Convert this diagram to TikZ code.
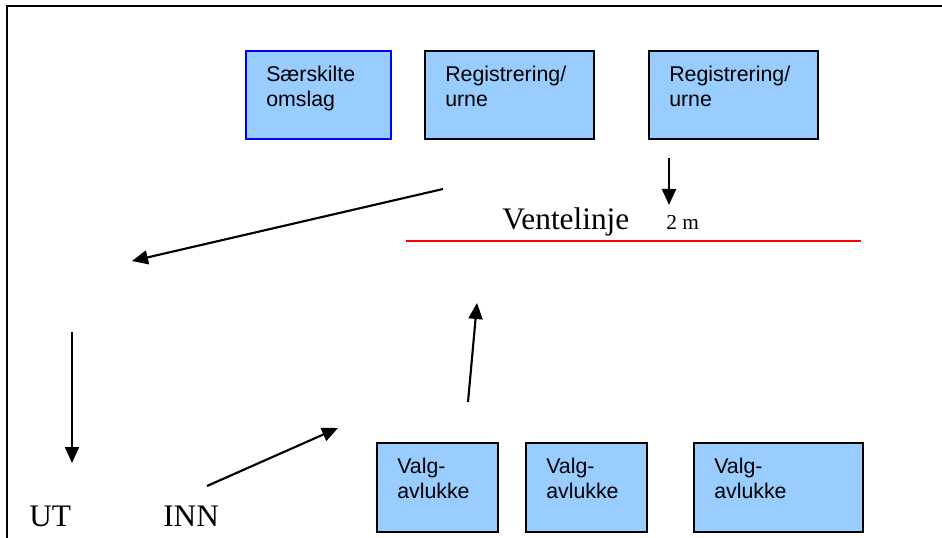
\documentclass[tikz,border=0pt]{standalone}
\usepackage{fontspec}
\setmainfont{Liberation Serif}
\setsansfont{Liberation Sans}
\usetikzlibrary{arrows.meta}
\definecolor{boxblue}{HTML}{99CCFF}

\begin{document}
\begin{tikzpicture}[x=0.75pt, y=-0.75pt,
    box/.style={draw, line width=1.5pt, fill=boxblue, anchor=north west, inner sep=0pt, minimum height=66pt},
    boxtext/.style={anchor=north west, inner sep=0pt, align=left, font=\sffamily\fontsize{16}{18.75}\selectfont, xshift=15.75pt, yshift=-12pt},
    bigtext/.style={anchor=base west, inner sep=0pt, font=\fontsize{23.5}{28}\selectfont},
    arr/.style={-{Triangle[length=12pt,width=10.5pt]}, line width=1.6pt}]
    \useasboundingbox (0,0) rectangle (942,538);
    \draw[line width=1.5pt] (942,6) -- (7,6) -- (7,538);

    \node[box, draw=blue, minimum width=108.75pt] (omslag) at (245,50) {};
    \node[boxtext] (omslag-t) at (omslag.north west) {Særskilte\\omslag};
    \node[box, minimum width=126.75pt] (urne1) at (424,50) {};
    \node[boxtext] (urne1-t) at (urne1.north west) {Registrering/\\urne};
    \node[box, minimum width=126.75pt] (urne2) at (648,50) {};
    \node[boxtext] (urne2-t) at (urne2.north west) {Registrering/\\urne};

    \node[box, minimum width=90.75pt, minimum height=66.75pt] (avlukke1) at (376,442) {};
    \node[boxtext] (avlukke1-t) at (avlukke1.north west) {Valg-\\avlukke};
    \node[box, minimum width=90.75pt, minimum height=66.75pt] (avlukke2) at (525,442) {};
    \node[boxtext] (avlukke2-t) at (avlukke2.north west) {Valg-\\avlukke};
    \node[box, minimum width=126.75pt, minimum height=66.75pt] (avlukke3) at (693,442) {};
    \node[boxtext] (avlukke3-t) at (avlukke3.north west) {Valg-\\avlukke};

    \node[bigtext] (vente) at (502,230) {Ventelinje};
    \node[anchor=base west, inner sep=0pt, font=\fontsize{16}{19}\selectfont] (avstand) at (666,230) {2 m};
    \draw[red, line width=2pt] (406,241) -- (861,241);

    \node[bigtext] (ut) at (29,526) {UT};
    \node[bigtext] (inn) at (163,526) {INN};

    \coordinate (urne-ned) at (669,158);
    \coordinate (kø-topp) at (669,205);
    \coordinate (kø-slutt) at (443,189);
    \coordinate (ut-venstre) at (132,261);
    \coordinate (ut-ned) at (72,332);
    \coordinate (ut-pil) at (72,463);
    \coordinate (inn-start) at (207,486);
    \coordinate (inn-pil) at (338,428);
    \coordinate (avlukke-opp) at (468,402);
    \coordinate (kø-inn) at (477,303);

    \draw[arr] (urne-ned) -- (kø-topp);
    \draw[arr] (kø-slutt) -- (ut-venstre);
    \draw[arr] (ut-ned) -- (ut-pil);
    \draw[arr] (inn-start) -- (inn-pil);
    \draw[arr] (avlukke-opp) -- (kø-inn);
\end{tikzpicture}
\end{document}
